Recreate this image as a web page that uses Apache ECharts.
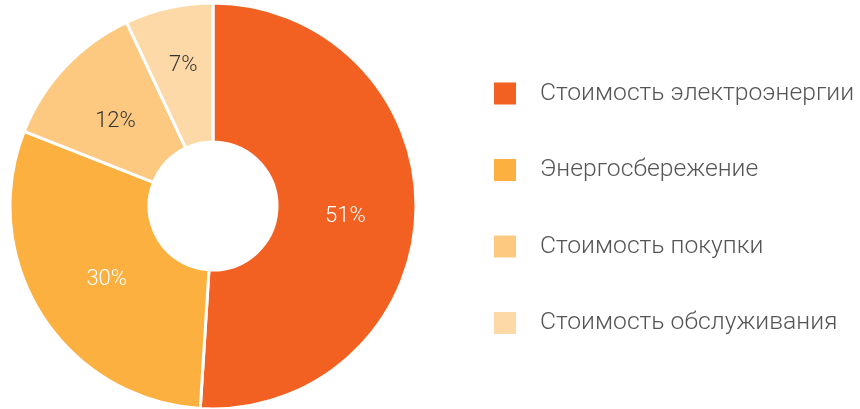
<!DOCTYPE html>
<html>
<head>
<meta charset="utf-8">
<script src="https://cdn.jsdelivr.net/npm/echarts@6/dist/echarts.min.js"></script>
<style>
  html, body { margin: 0; padding: 0; background: #fff; }
  #chart { width: 860px; height: 409px; }
</style>
</head>
<body>
<div id="chart"></div>
<script>
// данные диаграммы
var names = ['Стоимость электроэнергии', 'Энергосбережение', 'Стоимость покупки', 'Стоимость обслуживания'];
var values = [51, 30, 12, 7];
var colors = ['#F26122', '#FBB040', '#FDC880', '#FDD9A8'];
var labelColors = ['#ffffff', '#ffffff', '#333333', '#333333'];
var labelShift = [[-4, 6], [9, 0], [2, 9], [0, -7]];

var font = 'Roboto, sans-serif';
var chart = echarts.init(document.getElementById('chart'), null, { renderer: 'canvas' });

var data = names.map(function (n, i) {
  return {
    name: n,
    value: values[i],
    itemStyle: { color: colors[i] },
    label: { color: labelColors[i], offset: labelShift[i] }
  };
});

chart.setOption({
  animation: false,
  legend: {
    orient: 'vertical',
    left: 489,
    top: 76,
    icon: 'rect',
    itemWidth: 22,
    itemHeight: 22,
    itemGap: 51.5,
    itemStyle: { borderWidth: 0 },
    data: names,
    textStyle: {
      fontFamily: font,
      fontWeight: 300,
      fontSize: 24.7,
      color: '#555555',
      padding: [0, 0, 0, 19]
    }
  },
  series: [{
    type: 'pie',
    center: [213, 206],
    radius: [64, 203],
    startAngle: 90,
    clockwise: true,
    avoidLabelOverlap: false,
    itemStyle: { borderColor: '#ffffff', borderWidth: 3 },
    label: {
      show: true,
      position: 'inside',
      formatter: '{c}%',
      fontFamily: font,
      fontWeight: 300,
      fontSize: 22
    },
    labelLine: { show: false },
    emphasis: { disabled: true },
    data: data
  }]
});
</script>
</body>
</html>
